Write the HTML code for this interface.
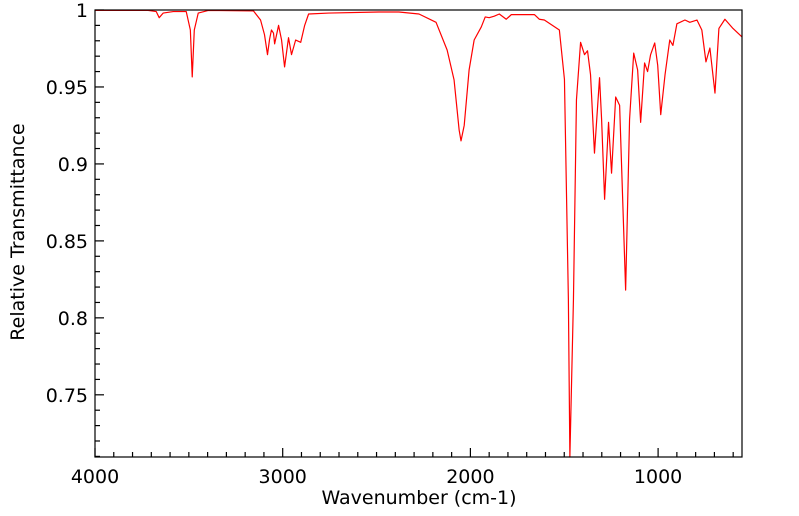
<!DOCTYPE html>
<html><head><meta charset="utf-8"><style>
html,body{margin:0;padding:0;background:#fff;}
svg{display:block;font-family:"DejaVu Sans","Liberation Sans",sans-serif;}
</style></head><body>
<svg id="chart" width="799" height="516">
<g id="axes"></g>
<path id="spectrum" fill="none" stroke="#ff0000" stroke-width="1.2" stroke-linejoin="round"/>
<rect x="95" y="10" width="647" height="447" fill="none" stroke="#000" stroke-width="1.2"/>
<text x="419" y="504" text-anchor="middle" font-size="19">Wavenumber (cm-1)</text>
<text transform="translate(24,232) rotate(-90)" text-anchor="middle" font-size="19">Relative Transmittance</text>
</svg>
<script>
const wavenumbers=[4000,3717,3674,3658,3637,3583,3514,3492,3482,3471,3450,3396,3156,3118,3097,3081,3070,3060,3049,3043,3022,3006,2990,2969,2953,2931,2904,2883,2862,2755,2488,2381,2274,2183,2124,2087,2060,2050,2033,2007,1980,1942,1921,1900,1873,1846,1809,1782,1659,1633,1606,1526,1499,1478,1470,1451,1435,1413,1392,1376,1360,1339,1312,1301,1285,1264,1248,1226,1205,1173,1152,1130,1109,1093,1072,1056,1040,1018,1002,986,963,938,921,900,857,831,793,767,745,724,697,676,644,601,553];
const transmittance=[0.9997,0.9997,0.999,0.995,0.998,0.999,0.999,0.987,0.9565,0.987,0.998,0.9997,0.9994,0.9935,0.984,0.971,0.981,0.987,0.985,0.978,0.990,0.9805,0.963,0.982,0.971,0.9805,0.979,0.990,0.9974,0.998,0.9987,0.9987,0.9974,0.992,0.974,0.9546,0.922,0.915,0.925,0.961,0.9805,0.989,0.9955,0.995,0.996,0.9974,0.994,0.997,0.997,0.994,0.9935,0.987,0.955,0.812,0.70,0.812,0.9416,0.979,0.971,0.9735,0.958,0.907,0.956,0.929,0.877,0.927,0.894,0.9435,0.938,0.818,0.929,0.972,0.961,0.927,0.9656,0.960,0.971,0.9786,0.964,0.932,0.958,0.9805,0.977,0.991,0.9935,0.992,0.9935,0.987,0.9663,0.9753,0.946,0.988,0.994,0.988,0.9825];
const xTickLabels=[4000,3000,2000,1000];
const yTickLabels=[1,0.95,0.9,0.85,0.8,0.75];
const X0=95,X1=742,Y0=10,Y1=457,WMAX=4000,WMIN=553,TMAX=1.0,TMIN=0.7096;
function xs(w){return X0+(WMAX-w)/(WMAX-WMIN)*(X1-X0);}
function ys(t){return Y0+(TMAX-t)/(TMAX-TMIN)*(Y1-Y0);}
const NS="http://www.w3.org/2000/svg";
const axes=document.getElementById('axes');
function line(x1,y1,x2,y2,name){const l=document.createElementNS(NS,'line');
l.setAttribute('x1',x1);l.setAttribute('y1',y1);l.setAttribute('x2',x2);l.setAttribute('y2',y2);
l.setAttribute('stroke','#000');l.setAttribute('stroke-width','1.2');


axes.appendChild(l);}
function text(x,y,s,anchor,name){const t=document.createElementNS(NS,'text');
t.setAttribute('x',x);t.setAttribute('y',y);t.setAttribute('text-anchor',anchor);t.setAttribute('font-size','19');t.textContent=s;


axes.appendChild(t);}
for(let w=4000;w>=WMIN;w-=100){const x=xs(w);const major=w%1000===0;line(x,Y1,x,Y1-(major?9:5),major?'x-major-tick':'x-minor-tick');}
xTickLabels.forEach(w=>text(xs(w),483,String(w),'middle','x-tick-label'));
for(let i=0;i<=29;i++){const t=1-i*0.01;if(t<TMIN)break;const y=ys(t);const major=i%5===0;line(X0,y,X0+(major?9:5),y,major?'y-major-tick':'y-minor-tick');}
yTickLabels.forEach(t=>text(88,ys(t)+7,String(t),'end','y-tick-label'));
let d='';
for(let i=0;i<wavenumbers.length;i++){d+=(i?'L':'M')+xs(wavenumbers[i]).toFixed(2)+' '+Math.min(Y1,ys(transmittance[i])).toFixed(2);}
document.getElementById('spectrum').setAttribute('d',d);
</script>
</body></html>
